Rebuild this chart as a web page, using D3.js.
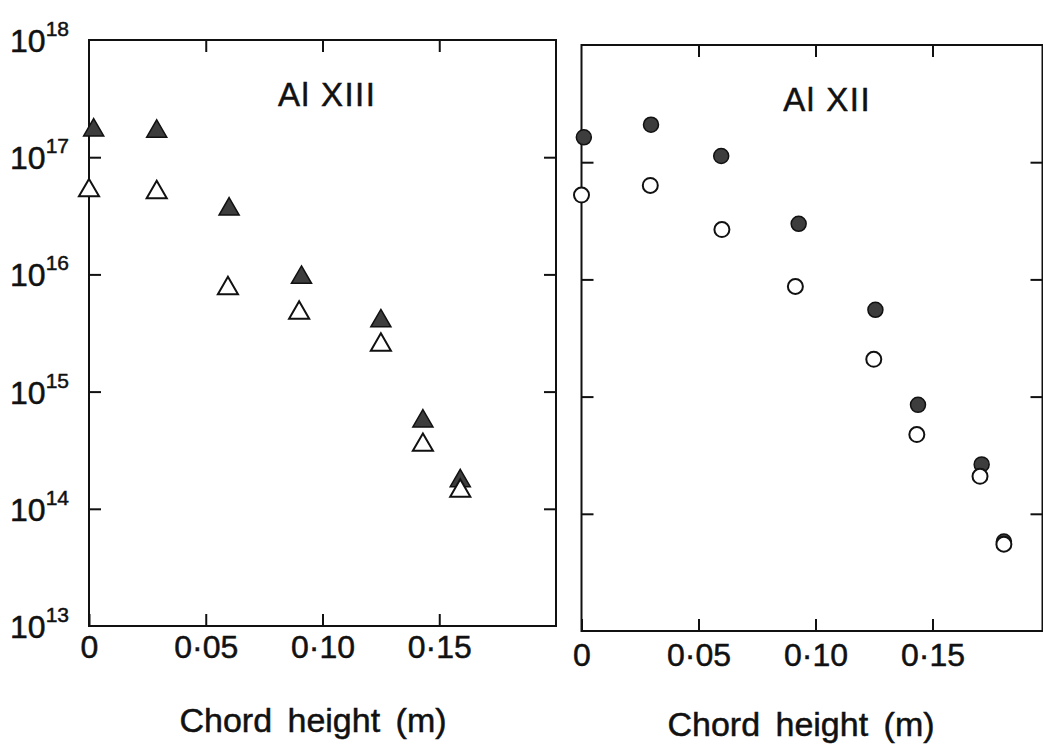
<!DOCTYPE html>
<html>
<head>
<meta charset="utf-8">
<script src="https://cdn.jsdelivr.net/npm/d3@7"></script>
<style>
  body { margin: 0; background: #fff; }
  text { font-family: "Liberation Sans", "DejaVu Sans", sans-serif; fill: #111; stroke: #111; stroke-width: 0.5px; }
</style>
</head>
<body>
<svg id="viz" width="1043" height="745"></svg>
<script>
const width = 1043;
const height = 745;
const svg = d3.select("#viz");

// tick labels
const xTicks = [0, 0.05, 0.10, 0.15];
const xTickLabels = ["0", "0·05", "0·10", "0·15"];
const yTicks = [1e13, 1e14, 1e15, 1e16, 1e17, 1e18];
const yExponents = ["13", "14", "15", "16", "17", "18"];

// Al XIII (triangles)
const alXIIIFilledX = [0.002, 0.029, 0.060, 0.091, 0.125, 0.143, 0.159];
const alXIIIFilledY = [1.7e17, 1.66e17, 3.6e16, 9.4e15, 4.0e15, 5.6e14, 1.73e14];
const alXIIIOpenX = [0.000, 0.029, 0.0595, 0.090, 0.125, 0.143, 0.159];
const alXIIIOpenY = [5.2e16, 5.0e16, 7.6e15, 4.7e15, 2.5e15, 3.5e14, 1.42e14];

// Al XII (circles)
const alXIIFilledX = [0.001, 0.0297, 0.0597, 0.0928, 0.1256, 0.1438, 0.171, 0.1805];
const alXIIFilledY = [1.63e17, 2.09e17, 1.13e17, 2.98e16, 5.5e15, 8.5e14, 2.64e14, 5.8e13];
const alXIIOpenX = [0.000, 0.0294, 0.060, 0.0914, 0.1249, 0.1433, 0.1703, 0.1805];
const alXIIOpenY = [5.24e16, 6.34e16, 2.66e16, 8.7e15, 2.08e15, 4.74e14, 2.09e14, 5.5e13];

const zip = (xs, ys) => xs.map((x, i) => ({ x, y: ys[i] }));

// panel layout
const panels = [
  {
    left: 89, right: 556, top: 40, bottom: 626, xMax: 0.2,
    title: "Al XIII", titleX: 0.102, shape: "triangle", yLabels: true,
    labelDy: 0, axisTitleX: 313, axisTitleY: 732,
    filled: zip(alXIIIFilledX, alXIIIFilledY),
    open: zip(alXIIIOpenX, alXIIIOpenY)
  },
  {
    left: 581.5, right: 1042.5, top: 45, bottom: 631, xMax: 0.197,
    title: "Al XII", titleX: 0.105, shape: "circle", yLabels: false,
    labelDy: 3, axisTitleX: 801, axisTitleY: 736,
    filled: zip(alXIIFilledX, alXIIFilledY),
    open: zip(alXIIOpenX, alXIIOpenY)
  }
];

const triangle = d3.symbol().type(d3.symbolTriangle).size(175);

panels.forEach(p => {
  const x = d3.scaleLinear().domain([0, p.xMax]).range([p.left, p.right]);
  const y = d3.scaleLog().domain([1e13, 1e18]).range([p.bottom, p.top]);
  const g = svg.append("g");

  // inward ticks on all four sides
  const addAxis = (axis, transform) => {
    const a = g.append("g").attr("transform", transform).call(axis);
    a.select(".domain").remove();
    a.selectAll("line").attr("stroke", "#111").attr("stroke-width", 2);
    return a;
  };

  const bottomAxis = addAxis(
    d3.axisBottom(x).tickValues(xTicks).tickSizeInner(-12).tickSizeOuter(0)
      .tickPadding(12).tickFormat((d, i) => xTickLabels[i]),
    `translate(0,${p.bottom})`);
  bottomAxis.selectAll("text")
    .attr("font-size", 32)
    .attr("dy", p.labelDy + 20)
    .style("font-family", '"Liberation Sans", sans-serif')
    .attr("fill", "#111");

  addAxis(d3.axisTop(x).tickValues(xTicks.slice(1)).tickSizeInner(-12).tickSizeOuter(0).tickFormat(""),
    `translate(0,${p.top})`);
  addAxis(d3.axisLeft(y).tickValues(yTicks.slice(1, -1)).tickSizeInner(-12).tickSizeOuter(0).tickFormat(""),
    `translate(${p.left},0)`);
  addAxis(d3.axisRight(y).tickValues(yTicks.slice(1, -1)).tickSizeInner(-12).tickSizeOuter(0).tickFormat(""),
    `translate(${p.right},0)`);

  // frame
  g.append("rect")
    .attr("x", p.left).attr("y", p.top)
    .attr("width", p.right - p.left).attr("height", p.bottom - p.top)
    .attr("fill", "none").attr("stroke", "#111").attr("stroke-width", 2);

  // y labels 10^n
  if (p.yLabels) {
    yTicks.forEach((v, i) => {
      const t = g.append("text")
        .attr("x", p.left - 20)
        .attr("y", y(v) + 12)
        .attr("text-anchor", "end");
      t.append("tspan").attr("font-size", 32).text("10");
      t.append("tspan").attr("font-size", 21).attr("dy", -16).text(yExponents[i]);
    });
  }

  // panel title
  g.append("text")
    .attr("x", x(p.titleX))
    .attr("y", p.top + 66)
    .attr("text-anchor", "middle")
    .attr("font-size", 33)
    .attr("letter-spacing", 1.5)
    .text(p.title);

  // x axis title
  svg.append("text")
    .attr("x", p.axisTitleX)
    .attr("y", p.axisTitleY)
    .attr("text-anchor", "middle")
    .attr("font-size", 34)
    .attr("word-spacing", 6)
    .text("Chord height (m)");

  // points: filled first, open on top
  const drawPoints = (data, fill, sw) => {
    if (p.shape === "triangle") {
      g.selectAll(null).data(data).enter().append("path")
        .attr("d", triangle)
        .attr("transform", d => `translate(${x(d.x)},${y(d.y)})`)
        .attr("fill", fill).attr("stroke", "#111").attr("stroke-width", sw);
    } else {
      g.selectAll(null).data(data).enter().append("circle")
        .attr("cx", d => x(d.x)).attr("cy", d => y(d.y))
        .attr("r", 7.5)
        .attr("fill", fill).attr("stroke", "#111").attr("stroke-width", sw);
    }
  };
  drawPoints(p.filled, "#3d3d3d", 1.5);
  drawPoints(p.open, "#fff", 2);
});
</script>
</body>
</html>
